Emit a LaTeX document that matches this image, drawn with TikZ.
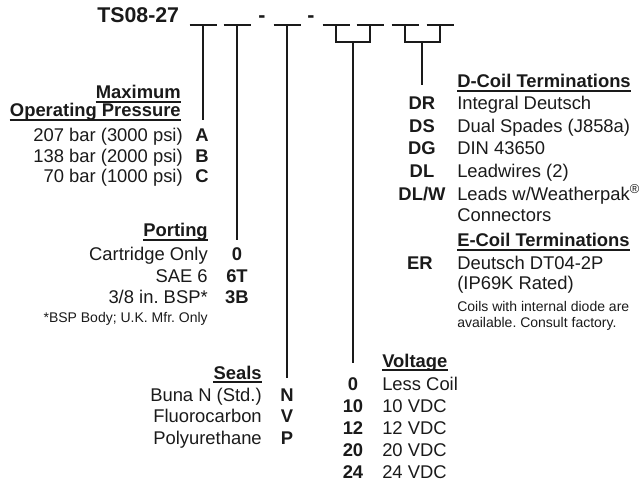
\documentclass[tikz,border=0pt]{standalone}
\usepackage{fontspec}
\setmainfont{Liberation Sans}
\usepackage{xcolor}
\usetikzlibrary{calc}
\definecolor{chartink}{HTML}{1A1A1A}
\frenchspacing
\newcommand{\blankline}[1]{\draw[chartink, line width=1.1pt] ($(#1)+(-13.5,0)$) -- ($(#1)+(13.5,0)$);}
\newcommand{\headunder}[1]{\draw[chartink, line width=1.1pt] ([yshift=-2.3pt]#1.base west) -- ([yshift=-2.3pt]#1.base east);}

\begin{document}
\begin{tikzpicture}[x=0.75pt, y=-0.75pt,
  desc/.style={inner sep=0pt, text=chartink, font=\fontsize{13.8pt}{16pt}\selectfont},
  codetag/.style={desc, anchor=base, font=\fontsize{13.8pt}{16pt}\selectfont\bfseries},
  heading/.style={desc, font=\fontsize{13.8pt}{16pt}\selectfont\bfseries},
  smallnote/.style={desc, font=\fontsize{10.5pt}{12pt}\selectfont},
  titletext/.style={desc, font=\fontsize{16pt}{18pt}\selectfont\bfseries},
  stem/.style={chartink, line width=1pt}]
\useasboundingbox (0,0) rectangle (640,485);

  %% Part number with blanks
  \node[titletext, anchor=base west] (partno) at (97,23) {TS08-27};
  \node[titletext, anchor=base] (dash1) at (262,23) {-};
  \node[titletext, anchor=base] (dash2) at (311,23) {-};
  \coordinate (b1) at (203,25);
  \coordinate (b2) at (237,25);
  \coordinate (b3) at (287,25);
  \coordinate (b4) at (336,25);
  \coordinate (b5) at (370,25);
  \coordinate (b6) at (405,25);
  \coordinate (b7) at (440,25);
  \foreach \i in {1,...,7} {\blankline{b\i}}

  %% Leader lines
  \coordinate (pressend) at (203,120);
  \coordinate (portend) at (237,240);
  \coordinate (sealend) at (287,378);
  \coordinate (vjoin) at (353,42);
  \coordinate (vend) at (353,363);
  \coordinate (djoin) at (422,42);
  \coordinate (dend) at (422,85);
  \draw[stem] (b1) -- (pressend);
  \draw[stem] (b2) -- (portend);
  \draw[stem] (b3) -- (sealend);
  \draw[stem] (b4) |- (vjoin) -| (b5);
  \draw[stem] (vjoin) -- (vend);
  \draw[stem] (b6) |- (djoin) -| (b7);
  \draw[stem] (djoin) -- (dend);

  %% Maximum operating pressure
  \node[heading, anchor=base east] (presshead1) at (181,99) {Maximum};
  \node[heading, anchor=base east] (presshead2) at (181,117) {Operating Pressure};
  \headunder{presshead1}
  \headunder{presshead2}
  \foreach \y/\txt/\cd [count=\i] in {142/207 bar (3000 psi)/A, 162.5/138 bar (2000 psi)/B, 183/70 bar (1000 psi)/C} {
    \node[desc, anchor=base east] (press\i) at (183,\y) {\txt};
    \node[codetag] (presscode\i) at (202,\y) {\cd};
  }

  %% Porting
  \node[heading, anchor=base east] (porthead) at (208,237) {Porting};
  \headunder{porthead}
  \node[desc, anchor=base east] (port1) at (208,260) {Cartridge Only};
  \node[desc, anchor=base east] (port2) at (208,282) {SAE 6};
  \node[desc, anchor=base east] (port3) at (208,303) {3/8 in. BSP*};
  \node[codetag] (portcode1) at (237,260) {0};
  \node[codetag] (portcode2) at (237,282) {6T};
  \node[codetag] (portcode3) at (237,303) {3B};
  \node[smallnote, anchor=base east] (portnote) at (208,322) {*BSP Body; U.K. Mfr. Only};

  %% Seals
  \node[heading, anchor=base east] (sealhead) at (262,379) {Seals};
  \headunder{sealhead}
  \foreach \y/\txt/\cd [count=\i] in {401/Buna N (Std.)/N, 422/Fluorocarbon/V, 444/Polyurethane/P} {
    \node[desc, anchor=base east] (seal\i) at (262,\y) {\txt};
    \node[codetag] (sealcode\i) at (287,\y) {\cd};
  }

  %% Voltage
  \node[heading, anchor=base west] (volthead) at (382,367) {Voltage};
  \headunder{volthead}
  \foreach \y/\cd/\txt [count=\i] in {390/0/Less Coil, 412/10/10 VDC, 434/12/12 VDC, 456/20/20 VDC, 478/24/24 VDC} {
    \node[codetag] (voltcode\i) at (353,\y) {\cd};
    \node[desc, anchor=base west] (volt\i) at (382,\y) {\txt};
  }

  %% D-coil terminations
  \node[heading, anchor=base west] (dcoilhead) at (457,88) {D-Coil Terminations};
  \headunder{dcoilhead}
  \node[codetag] (dcode1) at (422,110) {DR};
  \node[codetag] (dcode2) at (422,133) {DS};
  \node[codetag] (dcode3) at (422,155) {DG};
  \node[codetag] (dcode4) at (422,178) {DL};
  \node[codetag] (dcode5) at (422,200) {DL/W};
  \node[desc, anchor=base west] (dterm1) at (457,110) {Integral Deutsch};
  \node[desc, anchor=base west] (dterm2) at (457,133) {Dual Spades (J858a)};
  \node[desc, anchor=base west] (dterm3) at (457,155) {DIN 43650};
  \node[desc, anchor=base west] (dterm4) at (457,178) {Leadwires (2)};
  \node[desc, anchor=base west] (dterm5) at (457,200) {Leads w/Weatherpak\textsuperscript{\textregistered}};
  \node[desc, anchor=base west] (dterm5b) at (457,221) {Connectors};

  %% E-coil terminations
  \node[heading, anchor=base west] (ecoilhead) at (457,247) {E-Coil Terminations};
  \headunder{ecoilhead}
  \node[codetag] (ecode1) at (420,269) {ER};
  \node[desc, anchor=base west] (eterm1) at (457,269) {Deutsch DT04-2P};
  \node[desc, anchor=base west] (eterm1b) at (457,289) {(IP69K Rated)};
  \node[smallnote, anchor=base west] (diodenote1) at (457,311) {Coils with internal diode are};
  \node[smallnote, anchor=base west] (diodenote2) at (457,327) {available. Consult factory.};

\end{tikzpicture}
\end{document}
